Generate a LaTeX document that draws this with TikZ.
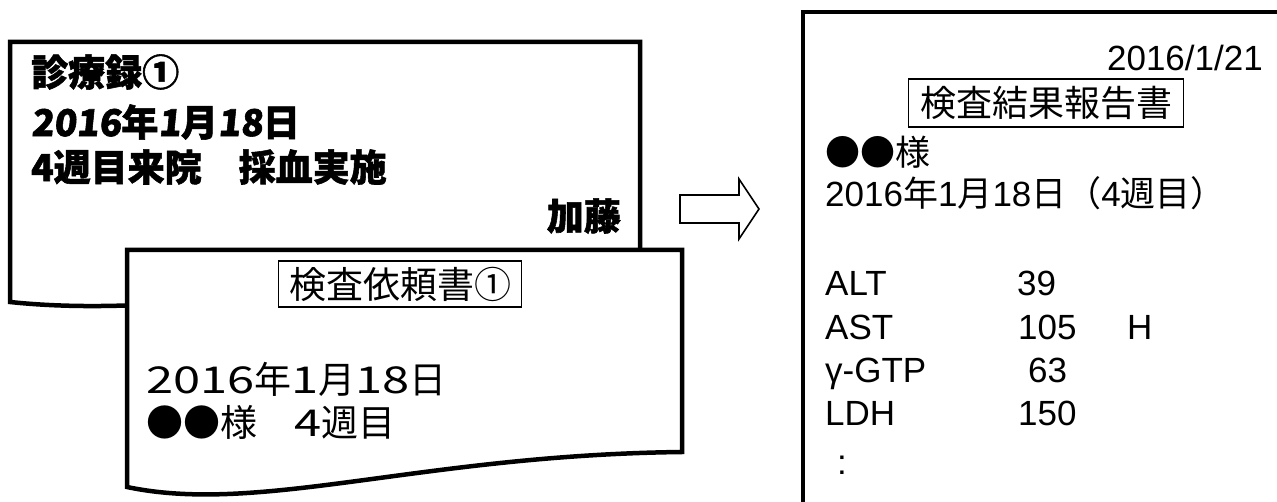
\documentclass[tikz,border=0pt]{standalone}
\usepackage{fontspec}
\setmainfont{Liberation Sans}
\newfontfamily\jp{Noto Sans CJK JP}
\newfontfamily\jpw{Noto Sans CJK JP}[FakeStretch=1.32]
\newfontfamily\jpb{Noto Sans CJK JP}[FakeBold=1.5]
\newfontfamily\jpbs{Noto Sans CJK JP}[FakeBold=1.5, FakeSlant=0.1]
\newcommand\myJ[1]{{\jp #1}}
\newcommand\myW[1]{{\jpw #1}}
\newcommand\mySl[1]{{\jpbs\bfseries #1}}
\tikzset{
  doc/.style={draw=black, fill=white, line width=4.5pt, line join=miter},
  pop/.style={inner sep=0pt, font=\jpb\bfseries\fontsize{37}{44}\selectfont},
  txtb/.style={inner sep=0pt, font=\jp\fontsize{37}{44}\selectfont},
  txtr/.style={inner sep=0pt, anchor=west, font=\fontsize{35}{42}\selectfont},
  row/.style={inner sep=0pt, anchor=base west, font=\fontsize{35}{42}\selectfont},
  titlebox/.style={draw=black, line width=1.8pt, inner sep=0pt, font=\jp\fontsize{37}{44}\selectfont},
  blockarrow/.style={draw=black, line width=1.6pt, fill=white, line join=miter}
}
\begin{document}
\begin{tikzpicture}[x=1pt,y=-1pt]
\useasboundingbox (0,0) rectangle (1277,502);
\begin{scope}
\clip (0,0) rectangle (1277,502);
% right document
\draw[doc] (803,12) rectangle (1300,520);
\end{scope}
% clinical record
\draw[doc] (10,42) -- (640,42) -- (640,285) .. controls (400,260) and (200,322) .. (10,302) -- cycle;
\node[pop, anchor=west] (t1) at (31,72) {診療録①};
\node[pop, anchor=west] (t2) at (31,122) {\mySl{2016}年\mySl{1}月\mySl{18}日};
\node[pop, anchor=west] (t3) at (31,167) {4週目来院　採血実施};
\node[pop, anchor=east] (t4) at (621,216) {加藤};
% request form
\draw[doc] (127,250) -- (682,250) -- (682,452) .. controls (420,455) and (260,515) .. (127,487) -- cycle;
\node[titlebox, minimum width=243pt, minimum height=46pt] (r1) at (400,284) {検査依頼書①};
\node[txtb, anchor=west] (r2) at (146,379) {\myW{2016}年\myW{1}月\myW{18}日};
\node[txtb, anchor=west] (r3) at (146,422) {●●様　\myW{4}週目};
% arrow
\draw[blockarrow] (680,195) -- (739,195) -- (739,179) -- (759,209) -- (739,239) -- (739,223) -- (680,223) -- cycle;
% report text
\node[inner sep=0pt, anchor=east, font=\fontsize{35}{42}\selectfont] (d) at (1263,58) {2016/1/21};
\node[titlebox, font=\jp\fontsize{36}{43}\selectfont, minimum width=275pt, minimum height=48pt] (rt) at (1046,103) {検査結果報告書};
\node[txtr] (n1) at (825,152) {\myJ{●●様}};
\node[txtr] (n2) at (825,193) {2016\myJ{年}1\myJ{月}18\myJ{日（}4\myJ{週目）}};
\node[row] (a1) at (825,295.5) {ALT};
\node[row] (a2) at (1017,295.5) {39};
\node[row] (b1) at (825,339.5) {AST};
\node[row] (b2) at (1018,339.5) {105};
\node[row] (b3) at (1127,339.5) {H};
\node[row] (c1) at (825,382.5) {γ-GTP};
\node[row] (c2) at (1028,382.5) {63};
\node[row] (e1) at (825,425.5) {LDH};
\node[row] (e2) at (1018,425.5) {150};
\node[row] (f1) at (837,474) {:};
\end{tikzpicture}
\end{document}
